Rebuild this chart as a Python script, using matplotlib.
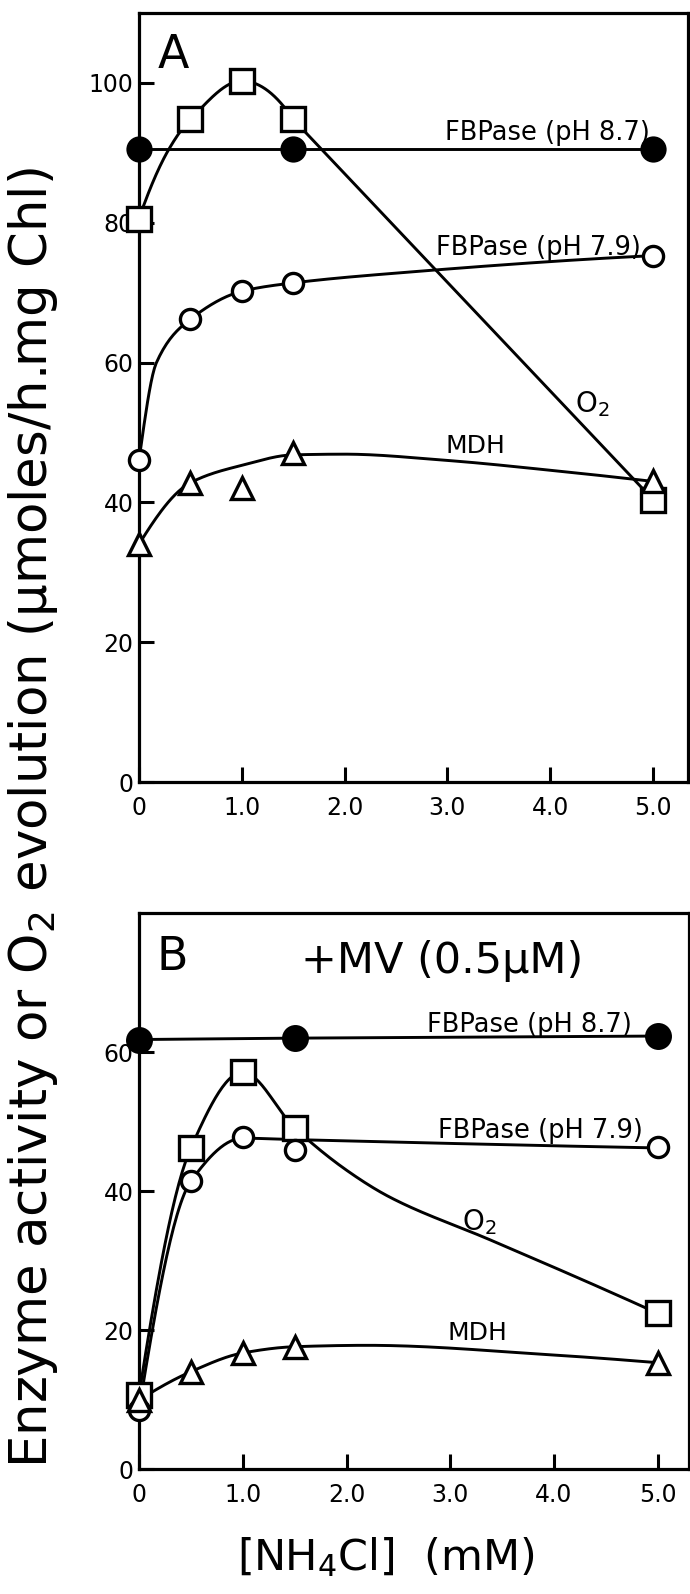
import matplotlib
matplotlib.use('Agg')
import matplotlib.pyplot as plt
import numpy as np

plt.rcParams['font.family'] = ['DejaVu Sans']
plt.rcParams['mathtext.default'] = 'regular'

# ---- panel A (no MV) ----
x_pts = [0, 0.5, 1.0, 1.5, 5.0]
x_fbp87 = [0, 1.5, 5.0]

a_fbp87 = [90.5, 90.5, 90.5]
a_fbp79 = [46.0, 66.2, 70.2, 71.4, 75.3]
a_o2 = [80.6, 94.8, 100.3, 94.8, 40.4]
a_mdh = [34.0, 42.8, 42.0, 47.1, 43.0]

# hand drawn guide curves
a_fbp79_fx = [0, 0.17, 0.5, 1.0, 1.5, 2.5, 5.0]
a_fbp79_fy = [46.0, 60.0, 66.2, 70.2, 71.4, 72.8, 75.3]
a_mdh_fx = [0, 0.5, 1.0, 1.5, 2.0, 3.0, 4.0, 5.0]
a_mdh_fy = [34.0, 42.8, 45.3, 46.8, 46.9, 46.0, 44.6, 43.0]
a_o2_fx = [0, 0.29, 0.5, 1.0, 1.5]   # smooth part, then straight to 5.0
a_o2_fy = [80.6, 90.5, 94.8, 100.3, 94.8]

# ---- panel B (+MV) ----
b_fbp87 = [61.8, 62.0, 62.3]
b_fbp79 = [8.5, 41.4, 47.8, 45.9, 46.3]
b_o2 = [10.6, 46.2, 57.1, 49.1, 22.4]
b_mdh = [9.9, 14.0, 16.7, 17.6, 15.3]

b_fbp79_fx = [0, 0.5, 1.0, 1.5, 5.0]
b_fbp79_fy = [8.5, 41.4, 47.6, 47.4, 46.2]
b_o2_fx = [0, 0.5, 1.0, 1.5, 2.0, 2.42, 3.38, 4.34, 5.0]
b_o2_fy = [10.6, 46.2, 57.1, 49.1, 43.0, 39.1, 33.0, 26.8, 22.4]
b_mdh_fx = [0, 0.5, 1.0, 1.5, 2.2, 4.0, 5.0]
b_mdh_fy = [9.9, 14.0, 16.7, 17.6, 17.8, 16.4, 15.3]

xticks = [0, 1, 2, 3, 4, 5]
xticklabels = ['0', '1.0', '2.0', '3.0', '4.0', '5.0']

LW = 2.1


def pchip(x, y, xn):
    x = np.asarray(x, float)
    y = np.asarray(y, float)
    h = np.diff(x)
    d = np.diff(y) / h
    n = len(x)
    m = np.zeros(n)
    for k in range(1, n - 1):
        if d[k - 1] * d[k] > 0:
            w1 = 2 * h[k] + h[k - 1]
            w2 = h[k] + 2 * h[k - 1]
            m[k] = (w1 + w2) / (w1 / d[k - 1] + w2 / d[k])

    def end(h0, h1, d0, d1):
        s = ((2 * h0 + h1) * d0 - h0 * d1) / (h0 + h1)
        if np.sign(s) != np.sign(d0):
            s = 0.0
        elif np.sign(d0) != np.sign(d1) and abs(s) > abs(3 * d0):
            s = 3 * d0
        return s

    if n > 2:
        m[0] = end(h[0], h[1], d[0], d[1])
        m[-1] = end(h[-1], h[-2], d[-1], d[-2])
    else:
        m[:] = d[0]
    idx = np.clip(np.searchsorted(x, xn) - 1, 0, n - 2)
    t = (xn - x[idx]) / h[idx]
    h00 = 2 * t**3 - 3 * t**2 + 1
    h10 = t**3 - 2 * t**2 + t
    h01 = -2 * t**3 + 3 * t**2
    h11 = t**3 - t**2
    return h00 * y[idx] + h10 * h[idx] * m[idx] + h01 * y[idx + 1] + h11 * h[idx] * m[idx + 1]


def curve(ax, fx, fy):
    xs = np.linspace(fx[0], fx[-1], 300)
    ax.plot(xs, pchip(fx, fy, xs), color='black', lw=LW, zorder=2)


def marks(ax, x, y, m, ms, filled=False):
    ax.plot(x, y, ls='none', marker=m, ms=ms, mew=2.4, mec='black',
            mfc='black' if filled else 'white', zorder=3, clip_on=False)


def style(ax, xmax, ylim, yticks):
    ax.set_xlim(0, xmax)
    ax.set_ylim(*ylim)
    ax.set_xticks(xticks)
    ax.set_xticklabels(xticklabels)
    ax.set_yticks(yticks)
    ax.set_yticklabels([str(v) for v in yticks])
    ax.tick_params(direction='in', length=11, width=2.2, labelsize=17, color='black')
    ax.tick_params(axis='y', pad=4)
    ax.tick_params(axis='x', pad=10)
    for s in ax.spines.values():
        s.set_linewidth(2.3)


fig = plt.figure(figsize=(6.9, 15.94), dpi=100)
axA = fig.add_axes([0.2014, 0.5094, 0.7957, 0.4824])
axB = fig.add_axes([0.2014, 0.0784, 0.7971, 0.3488])

# panel A
axA.plot(x_fbp87, a_fbp87, color='black', lw=LW, zorder=2)
curve(axA, a_fbp79_fx, a_fbp79_fy)
curve(axA, a_mdh_fx, a_mdh_fy)
xs = np.linspace(a_o2_fx[0], a_o2_fx[-1], 200)
axA.plot(np.r_[xs, x_pts[4]], np.r_[pchip(a_o2_fx, a_o2_fy, xs), a_o2[4]],
         color='black', lw=LW, zorder=2)
marks(axA, x_fbp87, a_fbp87, 'o', 16.5, filled=True)
marks(axA, x_pts, a_fbp79, 'o', 14.5)
marks(axA, x_pts, a_o2, 's', 17.5)
marks(axA, x_pts, a_mdh, '^', 16)
style(axA, 5.34, (0, 110), [0, 20, 40, 60, 80, 100])

axA.text(0.185, 102.1, 'A', fontsize=33, va='baseline')
axA.text(2.98, 91.8, 'FBPase (pH 8.7)', fontsize=18.5, va='baseline')
axA.text(2.89, 75.4, 'FBPase (pH 7.9)', fontsize=18.5, va='baseline')
axA.text(4.24, 52.9, 'O$_2$', fontsize=20, va='baseline')
axA.text(2.98, 47.1, 'MDH', fontsize=18, va='baseline')

# panel B
axB.plot(x_fbp87, b_fbp87, color='black', lw=LW, zorder=2)
curve(axB, b_fbp79_fx, b_fbp79_fy)
curve(axB, b_o2_fx, b_o2_fy)
curve(axB, b_mdh_fx, b_mdh_fy)
marks(axB, x_fbp87, b_fbp87, 'o', 17, filled=True)
marks(axB, x_pts, b_o2, 's', 17.5)
marks(axB, x_pts, b_fbp79, 'o', 14.5)
marks(axB, x_pts, b_mdh, '^', 16)
style(axB, 5.30, (0, 80), [0, 20, 40, 60])

axB.text(0.17, 71.8, 'B', fontsize=33, va='baseline')
axB.text(1.56, 71.4, '+MV (0.5μM)', fontsize=31, va='baseline')
axB.text(2.78, 62.9, 'FBPase (pH 8.7)', fontsize=18.5, va='baseline')
axB.text(2.88, 47.6, 'FBPase (pH 7.9)', fontsize=18.5, va='baseline')
axB.text(3.11, 34.4, 'O$_2$', fontsize=20, va='baseline')
axB.text(2.97, 18.6, 'MDH', fontsize=18, va='baseline')

fig.text(0.048, 0.487, 'Enzyme activity or O$_2$ evolution (μmoles/h.mg Chl)',
         rotation=90, fontsize=37, ha='center', va='center')
fig.text(237 / 690, 0.015, '[NH$_4$Cl]  (mM)', fontsize=31, ha='left', va='baseline')

fig.savefig('out.png', dpi=100)
